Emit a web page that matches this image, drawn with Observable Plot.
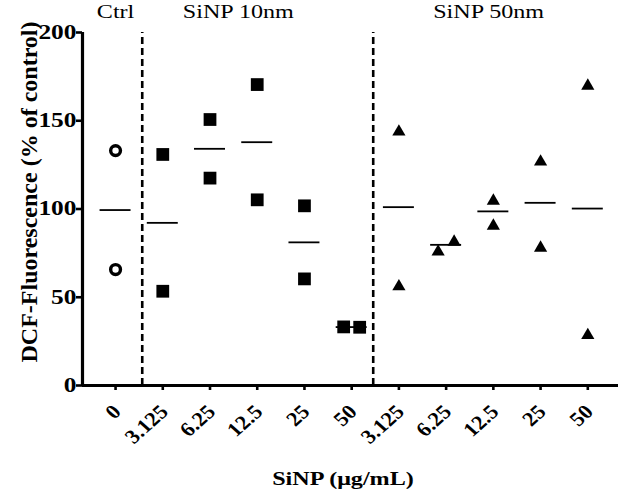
<!DOCTYPE html>
<html><head><meta charset="utf-8">
<script src="https://cdn.jsdelivr.net/npm/d3@7"></script>
<script src="https://cdn.jsdelivr.net/npm/@observablehq/plot@0.6"></script>
<style>body{margin:0;background:#fff} svg{display:block}</style>
</head><body><div id="chart"></div>
<script>
// ---- data ----
const groupNames = ["Ctrl", "SiNP 10nm", "SiNP 50nm"];
const doseLabels = ["0","3.125","6.25","12.5","25","50","3.125","6.25","12.5","25","50"];
const doseGroup = [0,1,1,1,1,1,2,2,2,2,2];
const ctrlValues = [[133.1, 65.7]];
const sinp10Values = [[130.9, 53.4], [150.7, 117.5], [170.5, 105.2], [101.8, 60.4], [33.2, 33.0]];
const sinp50Values = [[144.9, 57.2], [76.9, 82.5], [105.7, 91.6], [127.9, 79.1], [170.9, 29.6]];
const yTicks = [0, 50, 100, 150, 200];
const xTitle = "SiNP (μg/mL)";
const yTitle = "DCF-Fluorescence (% of control)";

// ---- layout ----
const W = 618, H = 492, mL = 82, mR = 0, mT = 32, mB = 107;
const xDomain = [-0.70, 10.65];
const ppu = (W - mL - mR) / (xDomain[1] - xDomain[0]);
const yppu = (H - mT - mB) / 200;
const dividers = [0.565, 5.456];
const groupLabelX = [0, 2.6, 7.9];
const stretch = 1.27;      // horizontal text
const stretchRot = 1.12;   // rotated tick labels
const font = "'Liberation Serif', 'Times New Roman', serif";

const columns = [...ctrlValues, ...sinp10Values, ...sinp50Values];
const shapes = ["circle", "square", "triangle"];
const points = [];
const means = [];
columns.forEach((vals, i) => {
  const overlap = vals.length === 2 && Math.abs(vals[0] - vals[1]) * yppu < 13;
  vals.forEach((v, k) => {
    const off = overlap ? (k === 0 ? -8 : 8) / ppu : 0;
    points.push({x: i + off, y: v, shape: shapes[doseGroup[i]]});
  });
  means.push({i, mean: d3.mean(vals)});
});
const ticksIdx = doseLabels.map((_, i) => i);

const chart = Plot.plot({
  width: W, height: H,
  marginLeft: mL, marginRight: mR, marginTop: mT, marginBottom: mB,
  x: {type: "linear", domain: xDomain, axis: null},
  y: {type: "linear", domain: [0, 200], axis: null},
  style: {fontFamily: font, background: "white", color: "black", overflow: "visible"},
  marks: [
    Plot.ruleX(dividers, {x: d => d, y1: 0, y2: 200, stroke: "black", strokeWidth: 2.6, strokeDasharray: "7,4"}),
    Plot.ruleX([xDomain[0]], {x: d => d, y1: 0, y2: 200, stroke: "black", strokeWidth: 3.2}),
    Plot.ruleY([0], {y: d => d, x1: xDomain[0], x2: xDomain[1], stroke: "black", strokeWidth: 3.2}),
    Plot.ruleY(yTicks, {y: d => d, x1: xDomain[0] - 6 / ppu, x2: xDomain[0], stroke: "black", strokeWidth: 2.6}),
    Plot.ruleX(ticksIdx, {x: d => d, y1: 0, y2: -5 / yppu, stroke: "black", strokeWidth: 2.6}),
    Plot.ruleY(means, {y: "mean", x1: d => d.i - 0.328, x2: d => d.i + 0.328, stroke: "black", strokeWidth: 1.8}),
    Plot.dot(points.filter(d => d.shape === "circle"), {x: "x", y: "y", symbol: "circle", r: 4.9, fill: "white", stroke: "black", strokeWidth: 3.4}),
    Plot.dot(points.filter(d => d.shape === "square"), {x: "x", y: "y", symbol: "square", r: 7.2, fill: "black", stroke: "none"}),
    Plot.dot(points.filter(d => d.shape === "triangle"), {x: "x", y: "y", symbol: "triangle", r: 4.9, fill: "black", stroke: "none", dy: 2}),
    Plot.text(yTicks, {x: xDomain[0], y: d => d, text: d => String(d), textAnchor: "end", dx: -6, fontSize: 20, fontWeight: "bold", fill: "black"}),
    Plot.text(ticksIdx, {x: d => d, y: 0, text: d => doseLabels[d], rotate: -45, textAnchor: "end", dx: 1.5, dy: 23, fontSize: 20, fontWeight: "bold", fill: "black"}),
    Plot.text(groupNames, {x: (d, i) => groupLabelX[i], y: 200, text: d => d, lineAnchor: "bottom", dy: -15, fontSize: 19, fill: "black"}),
    Plot.text([xTitle], {frameAnchor: "bottom", text: d => d, textAnchor: "middle", lineAnchor: "bottom", dx: -7.5, dy: 99, fontSize: 19, fontWeight: "bold", fill: "black"}),
    Plot.text([yTitle], {frameAnchor: "left", text: d => d, textAnchor: "middle", rotate: -90, dx: -53.5, dy: -17, fontSize: 24, fontWeight: "bold", fill: "black"})
  ]
});

// horizontal stretch of the wide serif lettering (all texts except the vertical title)
d3.select(chart).selectAll("text").each(function() {
  const t = d3.select(this);
  if (this.textContent === yTitle) return;
  let tr = t.attr("transform");
  if (!tr) {
    const x = +t.attr("x") || 0, y = +t.attr("y") || 0;
    tr = `translate(${x},${y})`;
    t.attr("x", null).attr("y", null);
  }
  if (tr.includes("rotate")) tr = tr.replace("rotate", `scale(${stretchRot},1) rotate`);
  else tr = tr + ` scale(${stretch},1)`;
  t.attr("transform", tr);
});

document.getElementById("chart").appendChild(chart);
</script>
</body></html>
